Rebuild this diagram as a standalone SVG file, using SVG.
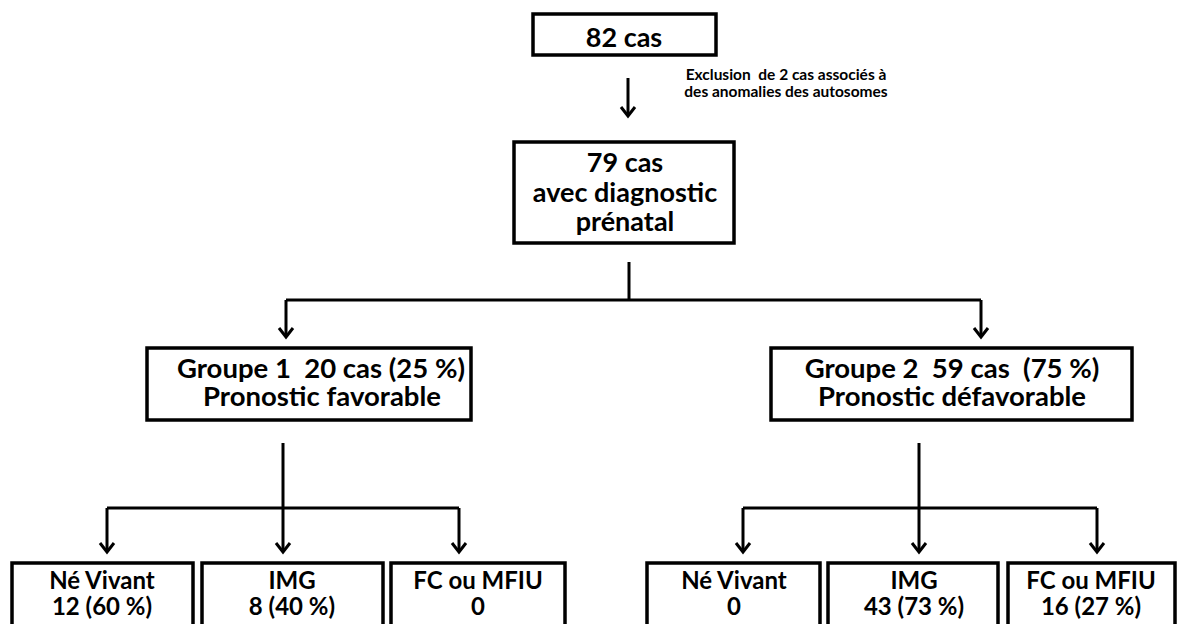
<svg xmlns="http://www.w3.org/2000/svg" width="1177" height="624" viewBox="0 0 1177 624">
<style>
.box{fill:#fff;stroke:#000;stroke-width:3.5}
.t{font-family:Lato,"Liberation Sans",sans-serif;font-weight:bold;fill:#000;text-anchor:middle}
.big{font-size:27px}
.grp{font-size:27.5px}
.sm{font-size:24px}
.note{font-size:15.5px}
.c{fill:none;stroke:#000;stroke-width:3}
</style>
<defs>
<marker id="ah" markerUnits="userSpaceOnUse" markerWidth="20" markerHeight="20" viewBox="-12 -10 14 20" refX="0" refY="0" orient="auto">
<path d="M-9,-7 L0,0 L-9,7" fill="none" stroke="#000" stroke-width="3"/>
</marker>
</defs>
<rect width="1177" height="624" fill="#fff"/>
<g id="connectors">
<line class="c" x1="628" y1="78" x2="628" y2="116" marker-end="url(#ah)"/>
<line class="c" x1="629" y1="262" x2="629" y2="300"/>
<line class="c" x1="286" y1="300" x2="981" y2="300"/>
<line class="c" x1="286" y1="300" x2="286" y2="337" marker-end="url(#ah)"/>
<line class="c" x1="981" y1="300" x2="981" y2="337" marker-end="url(#ah)"/>
<line class="c" x1="283" y1="443" x2="283" y2="552" marker-end="url(#ah)"/>
<line class="c" x1="107" y1="508" x2="459" y2="508"/>
<line class="c" x1="107" y1="508" x2="107" y2="552" marker-end="url(#ah)"/>
<line class="c" x1="459" y1="508" x2="459" y2="552" marker-end="url(#ah)"/>
<line class="c" x1="919" y1="443" x2="919" y2="552" marker-end="url(#ah)"/>
<line class="c" x1="743" y1="508" x2="1097" y2="508"/>
<line class="c" x1="743" y1="508" x2="743" y2="552" marker-end="url(#ah)"/>
<line class="c" x1="1097" y1="508" x2="1097" y2="552" marker-end="url(#ah)"/>
</g>
<g id="note">
<text class="t note" x="786" y="80" xml:space="preserve">Exclusion  de 2 cas associés à</text>
<text class="t note" x="786" y="97">des anomalies des autosomes</text>
</g>
<g id="n82">
<rect class="box" x="533" y="14" width="183" height="41"/>
<text class="t big" x="624" y="47">82 cas</text>
</g>
<g id="n79">
<rect class="box" x="514" y="142" width="220" height="101"/>
<text class="t big" x="625" y="172">79 cas</text>
<text class="t big" x="625" y="202">avec diagnostic</text>
<text class="t big" x="625" y="231">prénatal</text>
</g>
<g id="g1">
<rect class="box" x="147" y="348" width="324" height="72"/>
<text class="t grp" x="321" y="378" xml:space="preserve">Groupe 1  20 cas (25 %)</text>
<text class="t grp" x="322" y="406">Pronostic favorable</text>
</g>
<g id="g2">
<rect class="box" x="771" y="348" width="361" height="72"/>
<text class="t grp" x="952" y="378" xml:space="preserve">Groupe 2  59 cas  (75 %)</text>
<text class="t grp" x="952" y="406">Pronostic défavorable</text>
</g>
<g id="g1nv">
<rect class="box" x="12" y="563" width="181" height="80"/>
<text class="t sm" x="102" y="589">Né Vivant</text>
<text class="t sm" x="102" y="615">12 (60 %)</text>
</g>
<g id="g1img">
<rect class="box" x="202" y="563" width="181" height="80"/>
<text class="t sm" x="292" y="589">IMG</text>
<text class="t sm" x="292" y="615">8 (40 %)</text>
</g>
<g id="g1fc">
<rect class="box" x="391" y="563" width="174" height="80"/>
<text class="t sm" x="478" y="589">FC ou MFIU</text>
<text class="t sm" x="478" y="615">0</text>
</g>
<g id="g2nv">
<rect class="box" x="647" y="563" width="173" height="80"/>
<text class="t sm" x="734" y="589">Né Vivant</text>
<text class="t sm" x="734" y="615">0</text>
</g>
<g id="g2img">
<rect class="box" x="828" y="563" width="170" height="80"/>
<text class="t sm" x="914" y="589">IMG</text>
<text class="t sm" x="914" y="615">43 (73 %)</text>
</g>
<g id="g2fc">
<rect class="box" x="1008" y="563" width="167" height="80"/>
<text class="t sm" x="1091" y="589">FC ou MFIU</text>
<text class="t sm" x="1091" y="615">16 (27 %)</text>
</g>
</svg>
